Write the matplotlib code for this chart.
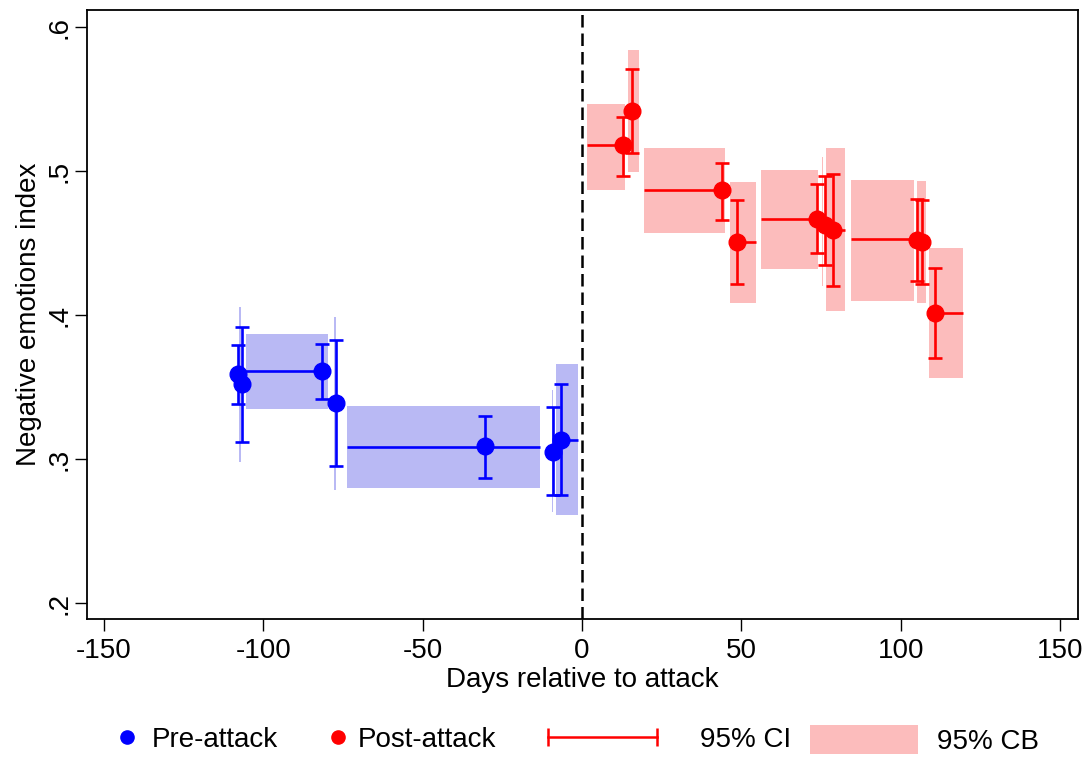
import matplotlib
matplotlib.use("Agg")
import matplotlib.pyplot as plt
from matplotlib.lines import Line2D
from matplotlib.patches import Patch, Rectangle
from matplotlib.legend_handler import HandlerLine2D

plt.rcParams["font.family"] = ["Liberation Sans", "DejaVu Sans"]

# ---- individual estimates: day, index, 95% CI low, 95% CI high ----
pre_days = [-107.8, -106.8, -81.7, -77.1, -30.4, -9.0, -6.6]
pre_vals = [0.359, 0.352, 0.361, 0.339, 0.309, 0.305, 0.313]
pre_ci_lo = [0.338, 0.312, 0.342, 0.295, 0.287, 0.275, 0.275]
pre_ci_hi = [0.379, 0.392, 0.380, 0.383, 0.330, 0.336, 0.352]

post_days = [13.0, 15.8, 44.0, 48.5, 73.8, 76.2, 78.6, 105.0, 106.6, 110.6]
post_vals = [0.518, 0.542, 0.487, 0.451, 0.467, 0.463, 0.4595, 0.452, 0.451, 0.4016]
post_ci_lo = [0.497, 0.513, 0.466, 0.4215, 0.443, 0.435, 0.420, 0.424, 0.422, 0.3705]
post_ci_hi = [0.538, 0.571, 0.506, 0.480, 0.491, 0.4965, 0.498, 0.481, 0.480, 0.433]

# ---- 95% confidence bands by period: start day, end day, low, high ----
pre_cb_start = [-107.55, -105.4, -77.75, -73.6, -9.45, -8.2]
pre_cb_end = [-107.05, -79.6, -77.25, -13.2, -8.95, -1.35]
pre_cb_lo = [0.298, 0.335, 0.2785, 0.280, 0.263, 0.261]
pre_cb_hi = [0.406, 0.387, 0.399, 0.337, 0.348, 0.366]

post_cb_start = [1.7, 14.5, 19.5, 46.5, 56.1, 75.25, 76.6, 84.3, 105.2, 108.9]
post_cb_end = [13.5, 17.9, 44.7, 54.5, 74.1, 75.75, 82.5, 104.0, 107.8, 119.5]
post_cb_lo = [0.487, 0.4995, 0.457, 0.4085, 0.432, 0.420, 0.403, 0.410, 0.4085, 0.3567]
post_cb_hi = [0.547, 0.584, 0.516, 0.4926, 0.501, 0.510, 0.516, 0.494, 0.4935, 0.4467]

# ---- period level lines: start day, end day, level ----
pre_line_start = [-107.8, -73.6, -6.6]
pre_line_end = [-81.7, -13.2, -1.35]
pre_line_level = [0.361, 0.3086, 0.3135]

post_line_start = [1.7, 19.5, 48.5, 56.1, 78.6, 84.3, 110.6]
post_line_end = [13.0, 44.0, 54.5, 73.8, 82.5, 105.0, 119.5]
post_line_level = [0.518, 0.487, 0.451, 0.467, 0.4595, 0.4526, 0.4016]

yticks = [0.2, 0.3, 0.4, 0.5, 0.6]
ytick_labels = [".2", ".3", ".4", ".5", ".6"]
xticks = [-150, -100, -50, 0, 50, 100, 150]

BLUE = "#0000ff"
RED = "#ff0000"
CB_BLUE = "#b9b9f4"
CB_RED = "#fcbcbc"
FS = 20

W, H = 1092, 759
fig = plt.figure(figsize=(W / 100, H / 100), dpi=100)
ax = fig.add_axes([87 / W, 1 - 619 / H, (1078 - 87) / W, (619 - 10) / H])


def draw_group(cb_s, cb_e, cb_lo, cb_hi, ln_s, ln_e, ln_lvl,
               days, vals, lo, hi, color, cb_color):
    for s, e, l, h in zip(cb_s, cb_e, cb_lo, cb_hi):
        ax.add_patch(Rectangle((s, l), e - s, h - l, facecolor=cb_color,
                               edgecolor="none", zorder=1))
    ax.hlines(ln_lvl, ln_s, ln_e, colors=color, lw=1.9, zorder=2)
    err = [[v - a for v, a in zip(vals, lo)], [b - v for v, b in zip(vals, hi)]]
    ax.errorbar(days, vals, yerr=err, fmt="none", ecolor=color, elinewidth=1.9,
                capsize=4.8, capthick=1.9, zorder=3)
    ax.plot(days, vals, "o", color=color, markersize=12, zorder=4)


draw_group(pre_cb_start, pre_cb_end, pre_cb_lo, pre_cb_hi,
           pre_line_start, pre_line_end, pre_line_level,
           pre_days, pre_vals, pre_ci_lo, pre_ci_hi, BLUE, CB_BLUE)
draw_group(post_cb_start, post_cb_end, post_cb_lo, post_cb_hi,
           post_line_start, post_line_end, post_line_level,
           post_days, post_vals, post_ci_lo, post_ci_hi, RED, CB_RED)

ax.axvline(0, color="black", lw=1.8, ls=(0, (5, 2.4)), zorder=5)

ax.set_xlim(-155.3, 155.6)
ax.set_ylim(0.189, 0.612)
ax.set_xticks(xticks)
ax.set_xticklabels([str(t) for t in xticks])
ax.set_yticks(yticks)
ax.set_yticklabels(ytick_labels, rotation=90, va="center")
ax.tick_params(axis="both", labelsize=FS, length=8.5, width=1.0, color="black")
ax.tick_params(axis="x", pad=5)
ax.tick_params(axis="y", pad=2)
for sp in ax.spines.values():
    sp.set_linewidth(1.3)

ax.set_xlabel("Days relative to attack", fontsize=FS, labelpad=2)
ax.set_ylabel("Negative emotions index", fontsize=FS, labelpad=3)

# ---- legend row ----
ly = 1 - 740 / H
h_pre = Line2D([], [], ls="none", marker="o", color=BLUE, markersize=9.5)
h_post = Line2D([], [], ls="none", marker="o", color=RED, markersize=9.5)
h_ci = Line2D([], [], color=RED, lw=1.8, marker="|", markersize=13,
              markeredgewidth=1.8)
h_cb = Patch(facecolor=CB_RED, edgecolor="none")

common = dict(loc="center left", frameon=False, borderpad=0, borderaxespad=0,
              fontsize=FS)
fig.legend([h_pre], ["Pre-attack"], bbox_to_anchor=(116 / W, ly),
           handlelength=0.8, handletextpad=0.5, **common)
fig.legend([h_post], ["Post-attack"], bbox_to_anchor=(327 / W, ly),
           handlelength=0.8, handletextpad=0.3, **common)
fig.legend([h_ci], ["95% CI"], bbox_to_anchor=(548 / W, ly),
           handlelength=3.92, handletextpad=1.55,
           handler_map={h_ci: HandlerLine2D(numpoints=2, marker_pad=0)}, **common)
fig.legend([h_cb], ["95% CB"], bbox_to_anchor=(810 / W, ly),
           handlelength=3.9, handleheight=1.25, handletextpad=0.68, **common)

fig.savefig("out.png", dpi=100)
